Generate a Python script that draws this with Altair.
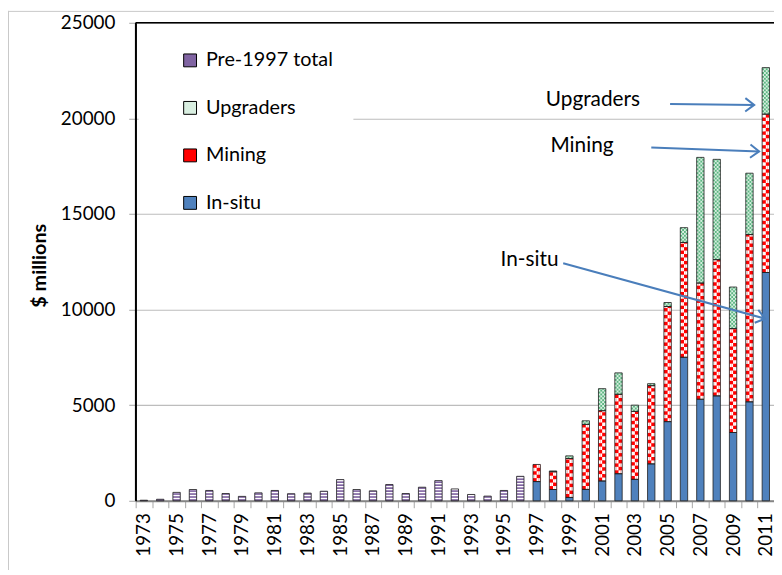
import altair as alt
import pandas as pd

# ---------------- data ----------------
years = [str(y) for y in range(1973, 2012)]
pre_years = [str(y) for y in range(1973, 1997)]
pre_total = [30, 80, 440, 590, 540, 380, 230, 415, 540, 370, 400, 500, 1110,
             590, 520, 850, 380, 710, 1055, 620, 330, 245, 540, 1280]
post_years = [str(y) for y in range(1997, 2012)]
insitu = [1005, 590, 175, 595, 1035, 1415, 1120, 1930, 4140, 7505, 5310, 5487, 3571, 5176, 11940]
mining = [895, 930, 2035, 3400, 3675, 4155, 3555, 4090, 6020, 6005, 6077, 7123, 5435, 8747, 8280]
upgraders = [0, 40, 140, 190, 1155, 1120, 325, 105, 210, 775, 6573, 5247, 2174, 3210, 2435]

series = ["Pre-1997 total", "Upgraders", "Mining", "In-situ"]
series_colors = ["#8064a2", "#d9efe1", "#ff0000", "#4f81bd"]
y_ticks = [0, 5000, 10000, 15000, 20000, 25000]

# ---------------- derived tables ----------------
seg = []
for yr, v in zip(pre_years, pre_total):
    seg.append(dict(year=yr, series="Pre-1997 total", lo=0, hi=v))
for yr, a, b, c in zip(post_years, insitu, mining, upgraders):
    seg.append(dict(year=yr, series="In-situ", lo=0, hi=a))
    seg.append(dict(year=yr, series="Mining", lo=a, hi=a + b))
    if c > 0:
        seg.append(dict(year=yr, series="Upgraders", lo=a + b, hi=a + b + c))
seg_df = pd.DataFrame(seg)

# horizontal white stripes for pre-1997 bars
P = 155
stripes = []
for yr, v in zip(pre_years, pre_total):
    k = 0
    while k * P + P * 0.55 < v:
        stripes.append(dict(year=yr, lo=k * P + P * 0.55, hi=min((k + 1) * P, v)))
        k += 1
stripes_df = pd.DataFrame(stripes)

# white checks for mining, green hatch for upgraders
C = 180
H = 100
cells = []
for yr, a, b, c in zip(post_years, insitu, mining, upgraders):
    i = 0
    while a + i * C < a + b:
        lo = a + i * C
        hi = min(lo + C, a + b)
        j = (i + 1) % 2
        for col in (2 * j, 2 * j + 1):
            cells.append(dict(year=yr, col=col, lo=lo, hi=hi, kind="check"))
        i += 1
    base = a + b
    k = 0
    while k * H < c:
        lo = base + k * H
        hi = min(lo + H, base + c)
        c1 = 3 - (k % 4)
        for col in (c1, (c1 + 2) % 4):
            cells.append(dict(year=yr, col=col, lo=lo, hi=hi, kind="hatch"))
        k += 1
cells_df = pd.DataFrame(cells)

FONT = "Lato"
step = 645 / 39

xenc = alt.X("year:N", sort=years,
             scale=alt.Scale(domain=years, paddingInner=0.55, paddingOuter=0.275),
             axis=alt.Axis(title=None, labelAngle=270, labelAlign="right", labelBaseline="middle",
                           labelFontSize=19, labelFont=FONT, labelColor="black",
                           labelExpr="(toNumber(datum.value) - 1973) % 2 == 0 ? datum.value : ''",
                           labelOverlap=False, labelPadding=5,
                           bandPosition=0.5, tickOffset=-step / 2, labelOffset=step / 2,
                           tickSize=7, tickColor="#a6a6a6", tickWidth=1,
                           domainColor="#868686", domainWidth=2, grid=False))
yenc = alt.Y("lo:Q", scale=alt.Scale(domain=[0, 25000], nice=False),
             axis=alt.Axis(values=y_ticks, format="d", title="$ millions",
                           titleFont=FONT, titleFontSize=20, titleFontWeight="bold", titleColor="black",
                           titleX=-97, titleY=245, titleAlign="center", titleBaseline="middle", titleAngle=270,
                           labelFont=FONT, labelFontSize=19, labelColor="black", labelPadding=14,
                           tickSize=7, tickColor="#a6a6a6", domainColor="black", domainWidth=1.5,
                           grid=True, gridColor="#bdbdbd", gridWidth=1.2))

# legend mask (hides gridline behind the legend box)
mask = alt.Chart(pd.DataFrame({"a": [0]})).mark_rect(color="white").encode(
    x=alt.value(3), x2=alt.value(220), y=alt.datum(16300), y2=alt.datum(24000))

base = alt.Chart(seg_df).mark_bar(strokeWidth=0).encode(
    x=xenc, y=yenc, y2="hi:Q",
    color=alt.Color("series:N", scale=alt.Scale(domain=series, range=series_colors),
                    legend=alt.Legend(orient="none", legendX=45, legendY=28, title=None,
                                      symbolType="square", symbolSize=169,
                                      symbolStrokeColor="black", symbolStrokeWidth=1,
                                      labelFont=FONT, labelFontSize=20, labelColor="black",
                                      rowPadding=28, labelOffset=6, padding=0)))

stripe_layer = alt.Chart(stripes_df).mark_bar(color="white", strokeWidth=0).encode(
    x=alt.X("year:N", sort=years), y="lo:Q", y2="hi:Q")

xoff = alt.XOffset("col:O", scale=alt.Scale(domain=[0, 1, 2, 3], paddingInner=0, paddingOuter=0))
check_layer = alt.Chart(cells_df).transform_filter("datum.kind == 'check'").mark_bar(
    color="white", strokeWidth=0).encode(
    x=alt.X("year:N", sort=years), xOffset=xoff, y="lo:Q", y2="hi:Q")
hatch_layer = alt.Chart(cells_df).transform_filter("datum.kind == 'hatch'").mark_bar(
    color="#5cb682", strokeWidth=0).encode(
    x=alt.X("year:N", sort=years), xOffset=xoff, y="lo:Q", y2="hi:Q")

outline = alt.Chart(seg_df).mark_bar(fillOpacity=0, stroke="#1f1f1f", strokeWidth=0.8).encode(
    x=alt.X("year:N", sort=years), y="lo:Q", y2="hi:Q")

top_rule = alt.Chart(pd.DataFrame({"a": [0]})).mark_rule(color="black", strokeWidth=1.5).encode(
    y=alt.datum(25000))
left_rule = alt.Chart(pd.DataFrame({"a": [0]})).mark_rule(color="black", strokeWidth=1.5).encode(
    x=alt.value(0), y=alt.datum(0), y2=alt.datum(25000))

# annotations
ann_text = ["Upgraders", "Mining", "In-situ"]
ann_x = [462, 451, 398]
ann_y = [78, 125, 240]
arrows = [(540, 82, 625, 83), (521, 126, 630, 130), (432, 243, 636, 299)]
ann_angles = [0.7, 2.1, 15.5]

layers = [mask, base, stripe_layer, check_layer, hatch_layer, outline, top_rule, left_rule]
for t, tx, ty in zip(ann_text, ann_x, ann_y):
    layers.append(alt.Chart(pd.DataFrame({"t": [t]})).mark_text(
        font=FONT, fontSize=21, color="black", align="center", baseline="middle").encode(
        text="t:N", x=alt.value(tx), y=alt.value(ty)))
for (x1, y1, x2, y2), ang in zip(arrows, ann_angles):
    layers.append(alt.Chart(pd.DataFrame({"a": [0]})).mark_rule(
        color="#4a7ebb", strokeWidth=2).encode(
        x=alt.value(x1), x2=alt.value(x2), y=alt.value(y1), y2=alt.value(y2)))
    layers.append(alt.Chart(pd.DataFrame({"a": [0]})).mark_point(
        shape="M-1,-0.75L0,0L-1,0.75", filled=False, stroke="#4a7ebb", strokeWidth=2,
        size=324, angle=ang, opacity=1).encode(x=alt.value(x2), y=alt.value(y2)))

# outer chart frame
layers.append(alt.Chart(pd.DataFrame({"a": [0]})).mark_rule(color="#c8c8c8", strokeWidth=1).encode(
    x=alt.value(-128.5), y=alt.value(-12), y2=alt.value(600)))
layers.append(alt.Chart(pd.DataFrame({"a": [0]})).mark_rule(color="#c8c8c8", strokeWidth=1).encode(
    x=alt.value(-129), x2=alt.value(700), y=alt.value(-11.5)))

chart = alt.layer(*layers).properties(
    width=645, height=483,
    autosize=alt.AutoSizeParams(type="none"),
    padding={"left": 129, "top": 12, "right": 0, "bottom": 67},
    background="white",
).configure_view(stroke=None).configure(font=FONT)

chart.save("out.html", embed_options={"renderer": "svg", "actions": False})
